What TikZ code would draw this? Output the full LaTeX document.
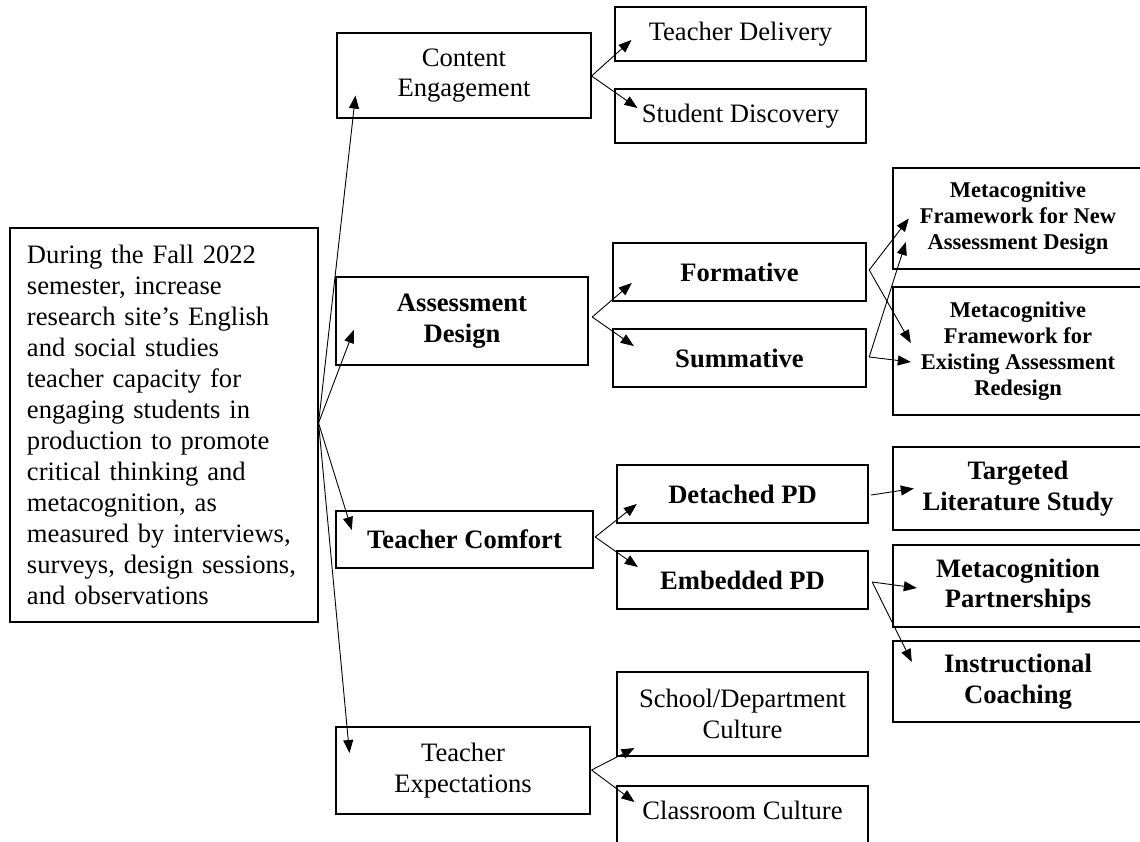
\documentclass[tikz,border=0pt]{standalone}
\usepackage{fontspec}
\setmainfont{Liberation Serif}
\usetikzlibrary{arrows.meta,calc}
\begin{document}
\begin{tikzpicture}[x=1pt,y=-1pt,
  box/.style={draw=black, line width=1.1pt, rectangle, inner sep=0pt, align=center,
    font=\fontsize{26.6}{30.6}\selectfont},
  bbox/.style={box, line width=2.4pt, font=\fontsize{26.6}{30.6}\selectfont\bfseries},
  sbox/.style={box, line width=2.4pt, font=\fontsize{22.5}{26}\selectfont\bfseries},
  arr/.style={line width=0.9pt, -{Triangle[length=13pt,width=10pt]}},
]
\useasboundingbox (0,0) rectangle (1140,841);

% main goal
\node[box, minimum width=308pt, minimum height=394pt, text width=274pt, align=left,
  font=\fontsize{26.6}{31}\selectfont] (main) at (164,425)
  {During the Fall 2022\\semester, increase\\research site’s English\\and social studies\\teacher capacity for\\engaging students in\\production to promote\\critical thinking and\\metacognition, as\\measured by interviews,\\surveys, design sessions,\\and observations};

% level 1
\node[box, minimum width=254pt, minimum height=85pt] (ce) at (464,75.5) {Content\\Engagement};
\node[bbox, minimum width=252pt, minimum height=88pt] (ad) at (462,321) {Assessment\\Design};
\node[bbox, minimum width=257pt, minimum height=57pt] (tc) at (464.5,539.5) {Teacher Comfort};
\node[box, minimum width=254pt, minimum height=87pt] (te) at (463,770.5) {Teacher\\Expectations};

% level 2
\node[box, minimum width=251pt, minimum height=54pt] (td) at (740.5,34) {Teacher Delivery};
\node[box, minimum width=251pt, minimum height=54pt] (sd) at (740.5,116) {Student Discovery};
\node[bbox, minimum width=253pt, minimum height=58pt] (fo) at (739.5,272) {Formative};
\node[bbox, minimum width=253pt, minimum height=58pt] (su) at (739.5,358) {Summative};
\node[bbox, minimum width=251pt, minimum height=58pt] (dp) at (742.5,494) {Detached PD};
\node[bbox, minimum width=251pt, minimum height=58pt] (ep) at (742.5,580) {Embedded PD};
\node[box, minimum width=251pt, minimum height=84pt] (sc) at (742.5,714) {School/Department\\Culture};
\node[box, minimum width=251pt, minimum height=64pt, text height=20pt, text depth=18pt] (cc) at (742.5,818) {Classroom Culture};

% level 3
\node[sbox, minimum width=250pt, minimum height=101pt] (mn) at (1018,218.5) {Metacognitive\\Framework for New\\Assessment Design};
\node[sbox, minimum width=250pt, minimum height=128pt] (mx) at (1018,351) {Metacognitive\\Framework for\\Existing Assessment\\Redesign};
\node[bbox, minimum width=250pt, minimum height=83pt] (tl) at (1018,488.5) {Targeted\\Literature Study};
\node[bbox, minimum width=250pt, minimum height=82pt] (mp) at (1018,586) {Metacognition\\Partnerships};
\node[bbox, minimum width=250pt, minimum height=81pt] (ic) at (1018,681.5) {Instructional\\Coaching};

% hubs
\coordinate (hmain) at ($(main.east)+(0,-2)$);
\coordinate (hce) at ($(ce.east)+(0,0.5)$);
\coordinate (had) at ($(ad.east)+(3,-4)$);
\coordinate (hfo) at ($(fo.east)+(2,-2)$);
\coordinate (hsu) at ($(su.east)+(2,-1)$);
\coordinate (htc) at ($(tc.east)+(1,-2.5)$);
\coordinate (hdp) at ($(dp.east)+(2,1)$);
\coordinate (hep) at ($(ep.east)+(3,2)$);
\coordinate (hte) at ($(te.east)+(1,-0.5)$);

% connectors
\draw[arr] (hmain) -- ($(ce.south west)+(19,-23)$);
\draw[arr] (hmain) -- ($(ad.west)+(19,9)$);
\draw[arr] (hmain) -- ($(tc.west)+(17,-9.5)$);
\draw[arr] (hmain) -- ($(te.west)+(14,-17.5)$);

\draw[arr] (hce) -- ($(td.west)+(17,6)$);
\draw[arr] (hce) -- ($(sd.west)+(23,-8)$);

\draw[arr] (had) -- ($(fo.west)+(20,11)$);
\draw[arr] (had) -- ($(su.west)+(22,-12)$);

\draw[arr] (hfo) -- ($(mn.west)+(17,0)$);
\draw[arr] (hfo) -- ($(mx.west)+(19,-8)$);
\draw[arr] (hsu) -- ($(mn.west)+(14,23.5)$);
\draw[arr] (hsu) -- ($(mx.west)+(19,11)$);

\draw[arr] (htc) -- ($(dp.west)+(21,10)$);
\draw[arr] (htc) -- ($(ep.west)+(22,-13)$);

\draw[arr] (hdp) -- ($(tl.west)+(22,0)$);
\draw[arr] (hep) -- ($(mp.west)+(25,2)$);
\draw[arr] (hep) -- ($(ic.west)+(20,-19.5)$);

\draw[arr] (hte) -- ($(sc.west)+(18,34)$);
\draw[arr] (hte) -- ($(cc.west)+(18,-16)$);
\end{tikzpicture}
\end{document}
